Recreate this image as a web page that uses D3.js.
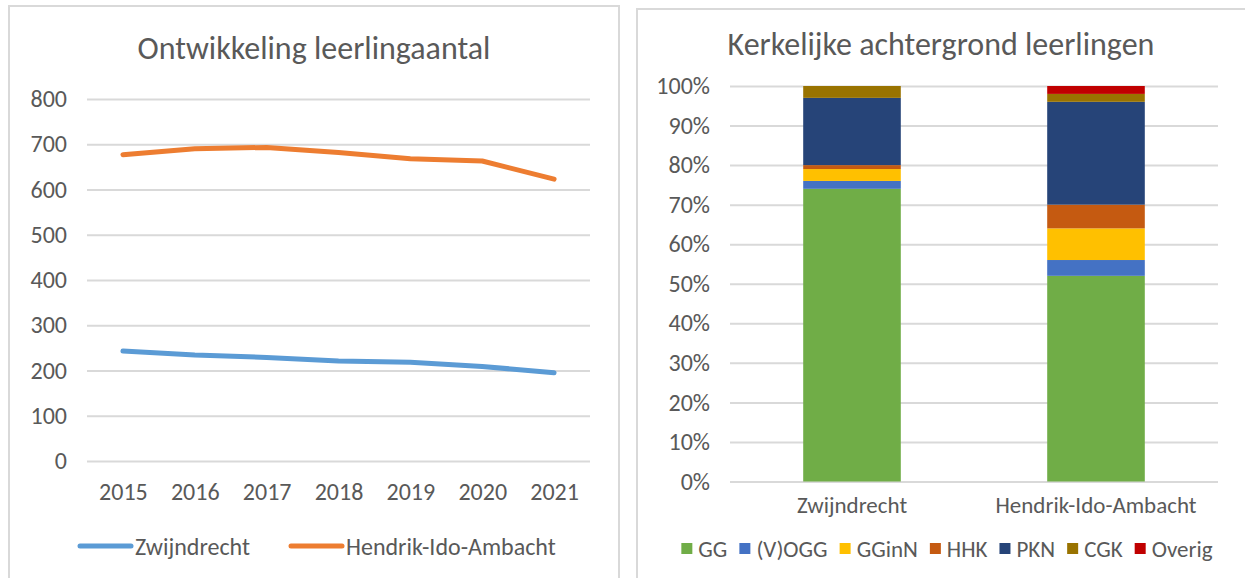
<!DOCTYPE html>
<html lang="nl">
<head>
<meta charset="UTF-8">
<title>Leerlingen</title>
<script src="https://d3js.org/d3.v7.min.js"></script>
<style>
  body { margin: 0; background: #fff; }
  text { font-family: Calibri, Carlito, Lato, sans-serif; fill: #595959; }
</style>
</head>
<body>
<script>
    // line chart data
    const years = ["2015", "2016", "2017", "2018", "2019", "2020", "2021"];
    const zwijndrecht = [243, 234, 229, 221, 218, 209, 195];
    const hia = [677, 690, 693, 682, 668, 663, 623];
    const yTicks = [0, 100, 200, 300, 400, 500, 600, 700, 800];

    // stacked bar data (percentages)
    const places = ["Zwijndrecht", "Hendrik-Ido-Ambacht"];
    const groups = ["GG", "(V)OGG", "GGinN", "HHK", "PKN", "CGK", "Overig"];
    const shareZwijndrecht = [74, 2, 3, 1, 17, 3, 0];
    const shareHia = [52, 4, 8, 6, 26, 2, 2];
    const groupColors = ["#70AD47", "#4472C4", "#FFC000", "#C55A11", "#264478", "#997300", "#C00000"];

    const width = 1245, height = 578;
    const svg = d3.select("body").append("svg")
        .attr("width", width).attr("height", height);

    // panel frames
    svg.append("rect").attr("x", 9).attr("y", 6).attr("width", 610).attr("height", 600)
        .attr("fill", "none").attr("stroke", "#D9D9D9").attr("stroke-width", 2);
    svg.append("rect").attr("x", 637).attr("y", 9).attr("width", 640).attr("height", 600)
        .attr("fill", "none").attr("stroke", "#D9D9D9").attr("stroke-width", 2);

    // ---------- left: line chart ----------
    const left = svg.append("g");
    const x = d3.scalePoint().domain(years).range([87, 590]).padding(0.5);
    const y = d3.scaleLinear().domain([0, 800]).range([461, 99]);

    left.append("text").attr("x", 314).attr("y", 59).attr("text-anchor", "middle")
        .style("font-size", "32px").text("Ontwikkeling leerlingaantal");

    const yAxis = left.append("g").attr("transform", "translate(87,0)")
        .call(d3.axisLeft(y).tickValues(yTicks).tickSize(-503).tickPadding(20));
    yAxis.select(".domain").remove();
    yAxis.selectAll("line").attr("stroke", "#D9D9D9").attr("stroke-width", 2);
    yAxis.selectAll("text").style("font-size", "24px").attr("fill", "#595959");

    const xAxis = left.append("g").attr("transform", "translate(0,461)")
        .call(d3.axisBottom(x).tickSize(0).tickPadding(22));
    xAxis.select(".domain").remove();
    xAxis.selectAll("text").style("font-size", "24px").attr("fill", "#595959");

    const line = d3.line().x((d, i) => x(years[i])).y(d => y(d));
    [[zwijndrecht, "#5B9BD5"], [hia, "#ED7D31"]].forEach(([vals, col]) => {
        left.append("path").datum(vals).attr("d", line)
            .attr("fill", "none").attr("stroke", col).attr("stroke-width", 5)
            .attr("stroke-linecap", "round").attr("stroke-linejoin", "round");
    });

    // legend
    const lineLegend = [["Zwijndrecht", "#5B9BD5", 80], ["Hendrik-Ido-Ambacht", "#ED7D31", 291]];
    lineLegend.forEach(([name, col, lx]) => {
        left.append("line").attr("x1", lx).attr("x2", lx + 51).attr("y1", 546).attr("y2", 546)
            .attr("stroke", col).attr("stroke-width", 5).attr("stroke-linecap", "round");
        left.append("text").attr("x", lx + 55).attr("y", 555)
            .style("font-size", "24px").text(name);
    });

    // ---------- right: stacked bars ----------
    const right = svg.append("g");
    const xb = d3.scaleBand().domain(places).range([730, 1218]);
    const yb = d3.scaleLinear().domain([0, 100]).range([481.5, 86]);

    right.append("text").attr("x", 941).attr("y", 55).attr("text-anchor", "middle")
        .style("font-size", "32px").text("Kerkelijke achtergrond leerlingen");

    const ybAxis = right.append("g").attr("transform", "translate(730,0)")
        .call(d3.axisLeft(yb).ticks(10).tickFormat(d => d + "%").tickSize(-488).tickPadding(20));
    ybAxis.select(".domain").remove();
    ybAxis.selectAll("line").attr("stroke", "#D9D9D9").attr("stroke-width", 2);
    ybAxis.selectAll("text").style("font-size", "24px").attr("fill", "#595959");

    const xbAxis = right.append("g").attr("transform", "translate(0,481.5)")
        .call(d3.axisBottom(xb).tickSize(0).tickPadding(15));
    xbAxis.select(".domain").remove();
    xbAxis.selectAll("text").style("font-size", "23px").attr("fill", "#595959");

    const rows = [shareZwijndrecht, shareHia].map((vals, i) => {
        const r = { place: places[i] };
        groups.forEach((g, j) => r[g] = vals[j]);
        return r;
    });
    const stacked = d3.stack().keys(groups)(rows);
    const barW = xb.bandwidth() * 0.4;

    right.selectAll("g.series").data(stacked).join("g")
        .attr("class", "series")
        .attr("fill", (d, i) => groupColors[i])
        .selectAll("rect").data(d => d).join("rect")
        .attr("x", d => xb(d.data.place) + (xb.bandwidth() - barW) / 2)
        .attr("width", barW)
        .attr("y", d => yb(d[1]))
        .attr("height", d => yb(d[0]) - yb(d[1]));

    // legend
    const leg = right.append("g");
    let lx = 0;
    groups.forEach((g, i) => {
        leg.append("rect").attr("x", lx).attr("y", 543).attr("width", 11).attr("height", 11)
            .attr("fill", groupColors[i]);
        const t = leg.append("text").attr("x", lx + 17).attr("y", 557)
            .style("font-size", "23px").text(g);
        lx += 17 + t.node().getComputedTextLength() + 12;
    });
    leg.attr("transform", "translate(" + (947 - (lx - 12) / 2) + ",0)");
</script>
</body>
</html>
